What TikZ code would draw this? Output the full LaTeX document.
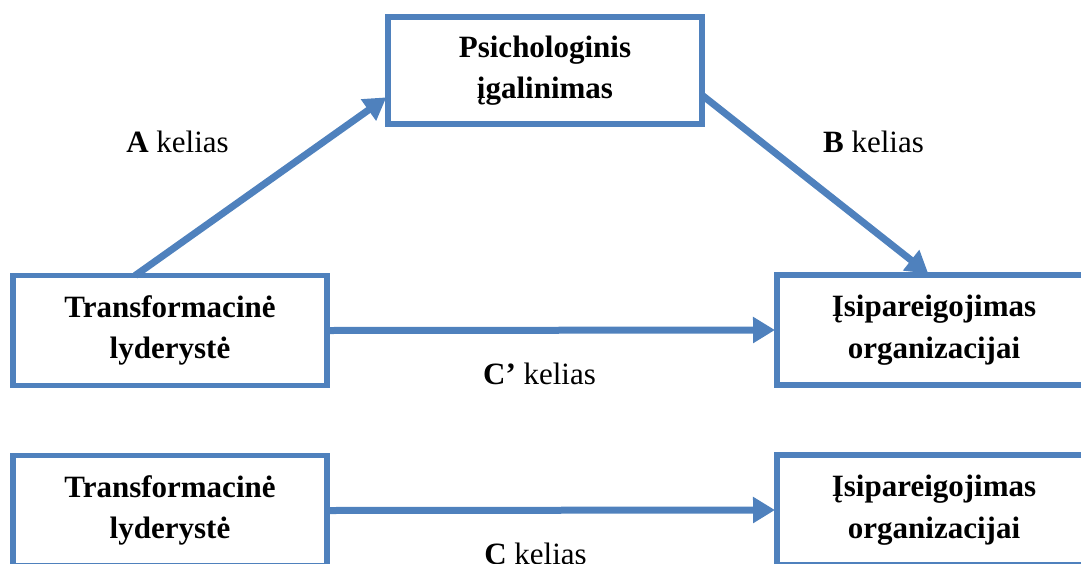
\documentclass[tikz,border=0pt]{standalone}
\usepackage{fontspec}
\setmainfont{Liberation Serif}
\usetikzlibrary{arrows.meta,calc}
\definecolor{boxblue}{HTML}{4F81BD}
\tikzset{
  boxnode/.style={draw=boxblue, line width=5.5pt, minimum width=314pt, minimum height=110pt,
    inner sep=2pt, outer sep=0pt, align=center, font=\fontsize{31}{41.5}\selectfont\bfseries},
  conn/.style={draw=boxblue, line width=7pt, -{Triangle[length=22pt,width=25pt]}, shorten >=2pt},
  pathlabel/.style={anchor=base, inner sep=0pt, font=\fontsize{31}{37}\selectfont}
}
\begin{document}
\begin{tikzpicture}[x=1pt,y=-1pt]
\useasboundingbox (0,0) rectangle (1081,563);
\clip (0,0) rectangle (1081,563);
\node[boxnode] (tl) at (170,330.5) {Transformacinė\\lyderystė};
\node[boxnode, minimum height=107pt] (p) at (545,70.5) {Psichologinis\\įgalinimas};
\node[boxnode] (tr) at (934,330) {Įsipareigojimas\\organizacijai};
\node[boxnode] (bl) at (170,510.5) {Transformacinė\\lyderystė};
\node[boxnode] (br) at (934,510) {Įsipareigojimas\\organizacijai};

\draw[conn] ($(tl.north west)!0.389!(tl.north east)$) -- ($(p.north west)!0.74!(p.south west)$);
\draw[conn] ($(p.north east)!0.73!(p.south east)$) -- ($(tr.north west)!0.487!(tr.north east)$);
\draw[conn] (tl.east) -- (tr.west);
\draw[conn] (bl.east) -- (br.west);

\node[pathlabel] (la) at (177.5,152) {\textbf{A} kelias};
\node[pathlabel] (lb) at (873.5,152) {\textbf{B} kelias};
\node[pathlabel] (lc1) at (539.5,384) {\textbf{C’} kelias};
\node[pathlabel] (lc) at (535.5,564) {\textbf{C} kelias};
\end{tikzpicture}
\end{document}
